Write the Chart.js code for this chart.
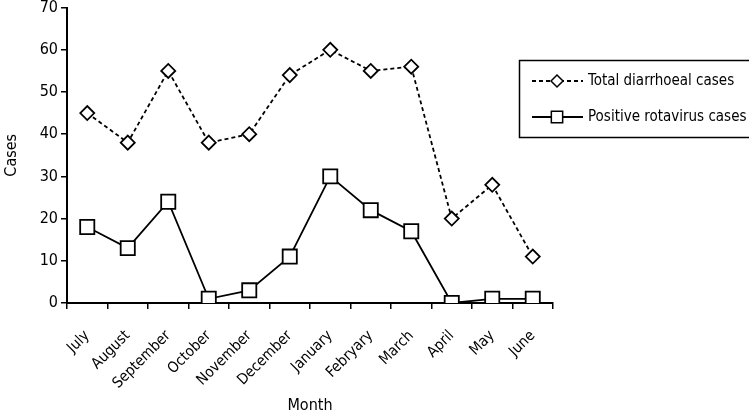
<!DOCTYPE html>
<html>
<head>
<meta charset="utf-8">
<script src="https://cdn.jsdelivr.net/npm/chart.js@4"></script>
<style>
  html, body { margin: 0; padding: 0; background: #fff; overflow: hidden; }
  #wrap { width: 749px; height: 420px; position: relative; margin-top: -5px; }
</style>
</head>
<body>
<div id="wrap"><canvas id="chart"></canvas></div>
<script>
// ── Data ────────────────────────────────────────────────
const MONTHS = ['July', 'August', 'September', 'October', 'November', 'December',
  'January', 'Febryary', 'March', 'April', 'May', 'June'];
const TOTAL_CASES = [45, 38, 55, 38, 40, 54, 60, 55, 56, 20, 28, 11];
const ROTAVIRUS_CASES = [18, 13, 24, 1, 3, 11, 30, 22, 17, 0, 1, 1];
const Y_TICKS = [0, 10, 20, 30, 40, 50, 60, 70];

const FONT = "'Liberation Sans Narrow', 'DejaVu Sans Condensed', 'Liberation Sans', sans-serif";

// ── Boxed legend drawn on the canvas (canvas sits 5px above the page top) ──
const boxLegend = {
  id: 'boxLegend',
  afterDraw(chart) {
    const ctx = chart.ctx;
    ctx.save();
    ctx.strokeStyle = '#000';
    ctx.lineWidth = 1.5;
    ctx.strokeRect(519.5, 65.5, 240, 77);

    const rows = [
      { ds: chart.data.datasets[0], y: 86 },
      { ds: chart.data.datasets[1], y: 122 },
    ];
    rows.forEach(({ ds, y }) => {
      ctx.beginPath();
      ctx.setLineDash(ds.borderDash || []);
      ctx.lineWidth = ds.borderWidth;
      ctx.moveTo(532, y);
      ctx.lineTo(583, y);
      ctx.stroke();
      ctx.setLineDash([]);
      ctx.fillStyle = '#fff';
      ctx.lineWidth = 1.5;
      const r = ds.pointStyle === 'rect' ? 8 : 6;
      Chart.helpers.drawPoint(ctx, {
        pointStyle: ds.pointStyle, radius: r, borderWidth: 1.5, rotation: 0,
      }, 557, y);
      ctx.fillStyle = '#000';
      ctx.font = '15px ' + FONT;
      ctx.textBaseline = 'middle';
      ctx.fillText(ds.label, 588, y);
    });
    ctx.restore();
  },
};

new Chart(document.getElementById('chart'), {
  type: 'line',
  data: {
    labels: MONTHS,
    datasets: [
      {
        label: 'Total diarrhoeal cases',
        data: TOTAL_CASES,
        borderColor: '#000',
        borderWidth: 1.8,
        borderDash: [4, 3],
        pointStyle: 'rectRot',
        pointRadius: 7,
        pointBorderWidth: 1.8,
        pointBackgroundColor: '#fff',
        pointBorderColor: '#000',
        tension: 0,
      },
      {
        label: 'Positive rotavirus cases',
        data: ROTAVIRUS_CASES,
        borderColor: '#000',
        borderWidth: 1.8,
        pointStyle: 'rect',
        pointRadius: 10,
        pointBorderWidth: 1.8,
        pointBackgroundColor: '#fff',
        pointBorderColor: '#000',
        tension: 0,
      },
    ],
  },
  options: {
    responsive: true,
    maintainAspectRatio: false,
    animation: false,
    layout: { padding: { top: 6, right: 196, left: 0, bottom: 0 } },
    plugins: { legend: { display: false }, tooltip: { enabled: false } },
    scales: {
      x: {
        offset: true,
        grid: { display: true, drawOnChartArea: false, offset: true, color: '#000', lineWidth: 1.5, tickLength: 6 },
        border: { color: '#000', width: 2 },
        ticks: { color: '#000', font: { family: FONT, size: 15 }, minRotation: 45, maxRotation: 45, padding: 18 },
        title: { display: true, text: 'Month', color: '#000', font: { family: FONT, size: 16 }, padding: { top: 0, bottom: 0 } },
        afterFit(scale) { scale.height = 112; },
      },
      y: {
        min: 0,
        max: 70,
        afterBuildTicks(scale) { scale.ticks = Y_TICKS.map((v) => ({ value: v })); },
        grid: { display: true, drawOnChartArea: false, color: '#000', lineWidth: 1.5, tickLength: 6 },
        border: { color: '#000', width: 2 },
        ticks: { color: '#000', font: { family: FONT, size: 16 }, padding: 3 },
        title: { display: true, text: 'Cases', color: '#000', font: { family: FONT, size: 16 }, padding: { top: 2, bottom: 10 } },
        afterFit(scale) { scale.width = 67; },
      },
    },
  },
  plugins: [boxLegend],
});
</script>
</body>
</html>
